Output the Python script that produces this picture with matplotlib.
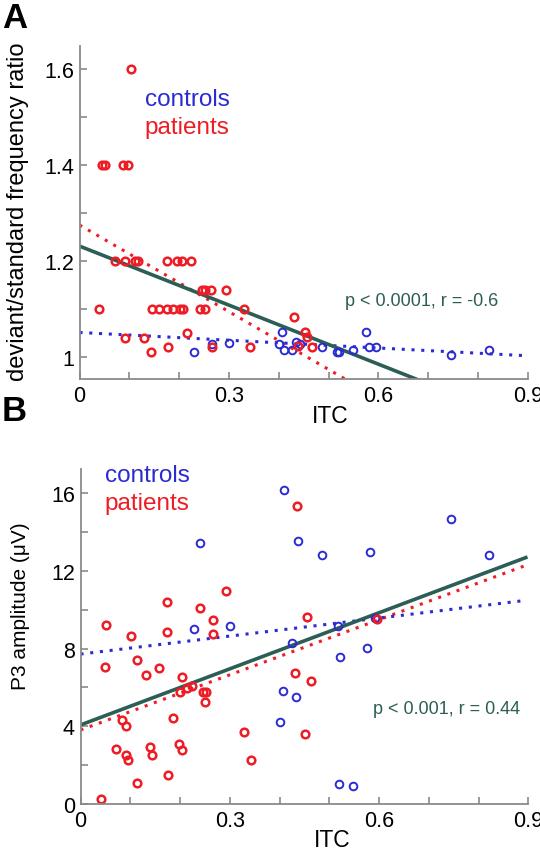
import matplotlib
matplotlib.use("Agg")
import matplotlib.pyplot as plt
import numpy as np

plt.rcParams['font.family'] = ['Liberation Sans', 'DejaVu Sans']

# ---- panel A: deviant/standard frequency ratio vs ITC ----
a_pat_x = [0.040, 0.071, 0.091, 0.112, 0.118, 0.175, 0.195, 0.205, 0.224,
           0.145, 0.160, 0.175, 0.188, 0.202, 0.207, 0.241, 0.252, 0.331,
           0.245, 0.252, 0.265, 0.294,
           0.091, 0.130, 0.143, 0.177, 0.216, 0.267, 0.342,
           0.103, 0.045, 0.052, 0.088, 0.098,
           0.431, 0.453, 0.456, 0.439, 0.466]
a_pat_y = [1.10, 1.20, 1.20, 1.20, 1.20, 1.20, 1.20, 1.20, 1.20,
           1.10, 1.10, 1.10, 1.10, 1.10, 1.10, 1.10, 1.10, 1.10,
           1.14, 1.14, 1.14, 1.14,
           1.04, 1.04, 1.01, 1.02, 1.05, 1.02, 1.02,
           1.60, 1.40, 1.40, 1.40, 1.40,
           1.084, 1.051, 1.041, 1.022, 1.020]
a_con_x = [0.230, 0.267, 0.300, 0.407, 0.401, 0.411, 0.426, 0.434, 0.443,
           0.486, 0.518, 0.521, 0.549, 0.575, 0.582, 0.595, 0.745, 0.822]
a_con_y = [1.010, 1.026, 1.030, 1.051, 1.027, 1.015, 1.015, 1.031, 1.027,
           1.020, 1.011, 1.010, 1.015, 1.051, 1.020, 1.020, 1.005, 1.015]
# fitted lines (intercept, slope)
a_fit_all = (1.231, -0.41)
a_fit_pat = (1.275, -0.602)
a_fit_con = (1.051, -0.054)
a_stats = 'p < 0.0001, r = -0.6'

# ---- panel B: P3 amplitude vs ITC ----
b_pat_x = [0.051, 0.101, 0.173, 0.173, 0.240, 0.267, 0.292, 0.266, 0.436,
           0.049, 0.114, 0.158, 0.131, 0.204, 0.199, 0.215, 0.224, 0.247,
           0.252, 0.250, 0.083, 0.091, 0.186, 0.071, 0.140, 0.144, 0.091,
           0.096, 0.197, 0.205, 0.176, 0.113, 0.041, 0.329, 0.342, 0.431,
           0.456, 0.595, 0.464, 0.451]
b_pat_y = [9.22, 8.67, 10.42, 8.88, 10.08, 9.47, 10.95, 8.75, 15.33,
           7.07, 7.41, 7.00, 6.66, 6.52, 5.75, 5.96, 6.09, 5.78,
           5.78, 5.24, 4.33, 4.03, 4.43, 2.83, 2.92, 2.52, 2.52,
           2.28, 3.09, 2.78, 1.51, 1.08, 0.26, 3.69, 2.28, 6.73,
           9.65, 9.53, 6.35, 3.60]
b_con_x = [0.241, 0.409, 0.228, 0.300, 0.438, 0.426, 0.406, 0.400, 0.434,
           0.486, 0.582, 0.744, 0.821, 0.517, 0.592, 0.521, 0.575, 0.520, 0.548]
b_con_y = [13.44, 16.17, 9.03, 9.17, 13.56, 8.29, 5.80, 4.20, 5.49,
           12.84, 12.99, 14.68, 12.82, 9.18, 9.58, 7.55, 8.02, 1.03, 0.94]
b_fit_all = (4.07, 9.63)
b_fit_pat = (3.81, 9.47)
b_fit_con = (7.72, 3.09)
b_stats = 'p < 0.001, r = 0.44'

red = '#ee1c24'
blue = '#2b2bd4'
green = '#2c5e55'
grey = '#8a8a8a'

W, H = 540, 853
fig = plt.figure(figsize=(5.4, 8.53), dpi=100)


def px_axes(l, t, r, b):
    return fig.add_axes([l / W, 1 - b / H, (r - l) / W, (b - t) / H])


def style(ax):
    for s in ['top', 'right']:
        ax.spines[s].set_visible(False)
    for s in ['left', 'bottom']:
        ax.spines[s].set_color(grey)
        ax.spines[s].set_linewidth(1.3)
    ax.tick_params(direction='in', length=5, width=1.2, color=grey,
                   labelsize=15.5, pad=4)
    ax.set_xticks(np.arange(0, 0.91, 0.1))
    ax.set_xticklabels(['0', '', '', '0.3', '', '', '0.6', '', '', '0.9'])
    ax.set_xlim(0, 0.9)


def lines(ax, fits, x1):
    xx = np.array([0, x1])
    (c0, m0), (c1, m1), (c2, m2) = fits
    ax.plot(xx, c1 + m1 * xx, color=red, ls=(0, (1, 2.2)), lw=2.2)
    ax.plot(xx, c2 + m2 * xx, color=blue, ls=(0, (1, 2.2)), lw=2.2)
    ax.plot(xx, c0 + m0 * xx, color=green, lw=2.6)


# panel A
ax = px_axes(79.5, 47, 527.7, 380)
style(ax)
lines(ax, [a_fit_all, a_fit_pat, a_fit_con], 0.89)
ax.plot(a_con_x, a_con_y, 'o', mfc='none', mec=blue, ms=5.5, mew=1.4)
ax.plot(a_pat_x, a_pat_y, 'o', mfc='none', mec=red, ms=5.5, mew=1.8)
ax.set_ylim(0.954, 1.648)
ax.set_yticks(np.arange(1.0, 1.61, 0.1))
ax.set_yticklabels(['1', '', '1.2', '', '1.4', '', '1.6'])
ax.text(0.131, 1.537, 'controls', color=blue, fontsize=17.5, va='center')
ax.text(0.131, 1.479, 'patients', color=red, fontsize=17.5, va='center')
ax.text(0.533, 1.117, a_stats, color=green, fontsize=13, va='center')
ax.set_xlabel('ITC', fontsize=16.5, va='top')
ax.xaxis.set_label_coords(0.559, -0.074)
ax.set_ylabel('deviant/standard frequency ratio', fontsize=17)
ax.yaxis.set_label_coords(-0.113, 0.505)
fig.text(2 / W, 1 - 2 / H, 'A', fontsize=25, fontweight='bold', va='top')

# panel B
ax = px_axes(80.5, 470, 528.3, 805)
style(ax)
lines(ax, [b_fit_all, b_fit_pat, b_fit_con], 0.895)
ax.plot(b_con_x, b_con_y, 'o', mfc='none', mec=blue, ms=5.5, mew=1.4)
ax.plot(b_pat_x, b_pat_y, 'o', mfc='none', mec=red, ms=5.5, mew=1.8)
ax.set_ylim(0, 17.25)
ax.set_yticks(np.arange(0, 16.1, 2))
ax.set_yticklabels(['0', '', '4', '', '8', '', '12', '', '16'])
ax.text(0.049, 16.94, 'controls', color=blue, fontsize=17.5, va='center')
ax.text(0.049, 15.5, 'patients', color=red, fontsize=17.5, va='center')
ax.text(0.587, 4.94, b_stats, color=green, fontsize=13, va='center')
ax.set_xlabel('ITC', fontsize=16.5, va='top')
ax.xaxis.set_label_coords(0.562, -0.073)
ax.set_ylabel('P3 amplitude (μV)', fontsize=15)
ax.yaxis.set_label_coords(-0.113, 0.594)
fig.text(2 / W, 1 - 395 / H, 'B', fontsize=25, fontweight='bold', va='top')

fig.savefig('out.png', dpi=100)
